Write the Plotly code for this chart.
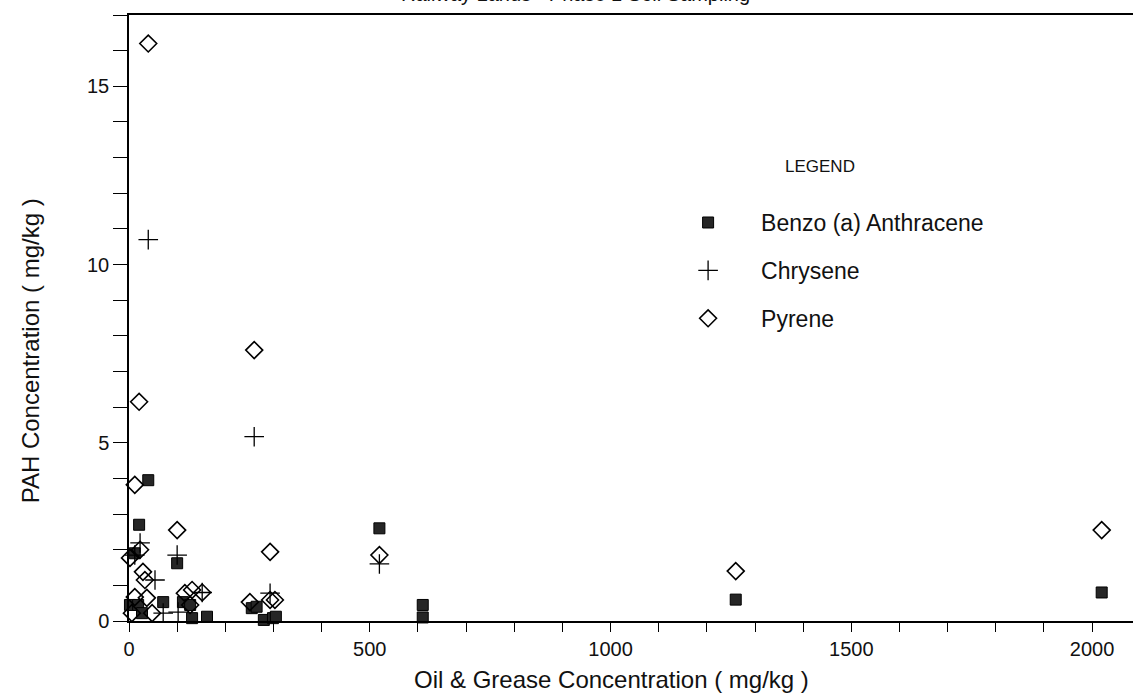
import plotly.graph_objects as go

# Benzo (a) Anthracene
baa_x = [40, 21, 12, 100, 520, 2, 19, 27, 71, 112, 127, 131, 162, 255, 265, 280, 299, 305, 610, 610, 1260, 2020]
baa_y = [3.95, 2.70, 1.90, 1.62, 2.60, 0.45, 0.45, 0.22, 0.53, 0.53, 0.45, 0.08, 0.12, 0.36, 0.40, 0.03, 0.08, 0.12, 0.45, 0.10, 0.60, 0.80]

# Chrysene
chr_x = [40, 260, 520, 23, 100, 54, 71, 102, 152, 293, 12]
chr_y = [10.7, 5.17, 1.60, 2.19, 1.85, 1.15, 0.22, 0.25, 0.80, 0.78, 1.85]

# Pyrene
pyr_x = [40, 21, 260, 12, 100, 293, 520, 1260, 2020, 23, 2, 29, 33, 12, 37, 6, 48, 116, 131, 152, 127, 251, 293, 303]
pyr_y = [16.2, 6.15, 7.60, 3.82, 2.55, 1.94, 1.85, 1.40, 2.55, 2.00, 1.77, 1.38, 1.15, 0.67, 0.65, 0.22, 0.22, 0.78, 0.87, 0.80, 0.45, 0.53, 0.59, 0.59]

x_title = "Oil & Grease Concentration ( mg/kg )"
y_title = "PAH Concentration ( mg/kg )"

FONT = "Liberation Sans, Arial, sans-serif"

fig = go.Figure()
fig.add_trace(go.Scatter(
    x=baa_x, y=baa_y, mode="markers", name="Benzo (a) Anthracene",
    legendgroup="a",
    marker=dict(symbol="square", size=11, color="#262626",
                line=dict(color="#000000", width=1)),
    cliponaxis=False))
fig.add_trace(go.Scatter(
    x=chr_x, y=chr_y, mode="markers", name="Chrysene",
    legendgroup="b",
    marker=dict(symbol="cross-thin", size=14, color="#000000",
                line=dict(color="#000000", width=1.3)),
    cliponaxis=False))
fig.add_trace(go.Scatter(
    x=pyr_x, y=pyr_y, mode="markers", name="Pyrene",
    legendgroup="c",
    marker=dict(symbol="diamond-open", size=13, color="#000000",
                line=dict(color="#000000", width=1.6)),
    cliponaxis=False))

fig.update_layout(
    width=1133, height=697,
    margin=dict(l=129, r=0, t=15, b=76),
    paper_bgcolor="white", plot_bgcolor="white",
    font=dict(family=FONT, color="#111111", size=20),
    showlegend=True,
    legend=dict(
        x=0.524, y=0.693, xanchor="left", yanchor="top",
        font=dict(family=FONT, size=23, color="#111111"),
        tracegroupgap=15, itemwidth=96,
        bgcolor="rgba(0,0,0,0)",
    ),
    annotations=[
        dict(text="LEGEND", x=0.725, y=0.769, xref="paper", yref="paper",
             showarrow=False, font=dict(family=FONT, size=17, color="#111111")),
        dict(text="Railway Lands - Phase 1 Soil Sampling", x=0.445, y=1.0, xref="paper", yref="paper",
             yshift=8, yanchor="bottom", showarrow=False,
             font=dict(family=FONT, size=20, color="#111111")),
        dict(text=x_title, x=0.481, y=-0.097, xref="paper", yref="paper",
             xanchor="center", yanchor="middle", showarrow=False,
             font=dict(family=FONT, size=24, color="#111111")),
        dict(text=y_title, x=-0.0986, y=0.445, xref="paper", yref="paper",
             xanchor="center", yanchor="middle", textangle=-90, showarrow=False,
             font=dict(family=FONT, size=24, color="#111111")),
    ],
)

fig.update_xaxes(
    range=[0, 2085], showgrid=False, zeroline=False,
    showline=True, linecolor="#000000", linewidth=1.5, mirror=True,
    ticks="outside", ticklen=9, tickwidth=1.2, tickcolor="#000000",
    tickvals=[0, 500, 1000, 1500, 2000], ticktext=["0", "500", "1000", "1500", "2000"],
    tickfont=dict(family=FONT, size=20),
    minor=dict(dtick=100, ticks="outside", ticklen=9, tickwidth=1.2, tickcolor="#000000"),
)
fig.update_yaxes(
    range=[0, 17], showgrid=False, zeroline=False,
    showline=True, linecolor="#000000", linewidth=1.5,
    ticks="outside", ticklen=14, tickwidth=1.2, tickcolor="#000000",
    tickvals=[0, 5, 10, 15], ticktext=["0", "5", "10", "15"],
    tickfont=dict(family=FONT, size=20),
    minor=dict(dtick=1, ticks="outside", ticklen=14, tickwidth=1.2, tickcolor="#000000"),
)

fig.write_html("out.html")
